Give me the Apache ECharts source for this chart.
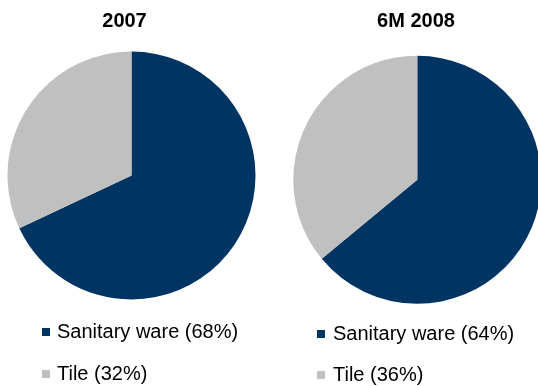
<!DOCTYPE html>
<html>
<head>
<meta charset="utf-8">
<style>
  html, body { margin: 0; padding: 0; background: #fff; }
  #chart { width: 538px; height: 386px; }
</style>
<script src="https://cdn.jsdelivr.net/npm/echarts@6/dist/echarts.min.js"></script>
</head>
<body>
<div id="chart"></div>
<script>
// Revenue split by segment
const categories = ['Sanitary ware', 'Tile'];
const periods = ['2007', '6M 2008'];
const share2007 = [68, 32];
const share6M2008 = [64, 36];

const colors = ['#003462', '#C0C0C0'];
const font = 'Liberation Sans, Arial, sans-serif';

function pieData(values) {
  return categories.map((c, i) => ({ name: c + ' (' + values[i] + '%)', value: values[i] }));
}
const dataA = pieData(share2007);
const dataB = pieData(share6M2008);

const legendText = { fontFamily: font, fontSize: 20, color: '#000', lineHeight: 20 };

const chart = echarts.init(document.getElementById('chart'), null, { renderer: 'canvas' });
chart.setOption({
  animation: false,
  color: colors,
  title: [
    { text: periods[0], left: 119.5, top: 6, textAlign: 'center',
      textStyle: { fontFamily: font, fontSize: 20, fontWeight: 'bold', color: '#000' } },
    { text: periods[1], left: 411, top: 6, textAlign: 'center',
      textStyle: { fontFamily: font, fontSize: 20, fontWeight: 'bold', color: '#000' } }
  ],
  legend: [
    { data: dataA.map(d => d.name), orient: 'vertical', left: 42, top: 322,
      width: 240, height: 64, padding: 0,
      icon: 'rect', itemWidth: 8, itemHeight: 8, itemGap: 22,
      selectedMode: false,
      textStyle: Object.assign({ padding: [0, 0, 0, 2] }, legendText) },
    { data: dataB.map(d => d.name), orient: 'vertical', left: 317, top: 324,
      width: 220, height: 62, padding: 0,
      icon: 'rect', itemWidth: 8, itemHeight: 8, itemGap: 21,
      selectedMode: false,
      textStyle: Object.assign({ padding: [0, 0, 0, 3] }, legendText) }
  ],
  series: [
    { type: 'pie', center: [131.5, 175.5], radius: 124, startAngle: 90, clockwise: true,
      label: { show: false }, labelLine: { show: false }, emphasis: { disabled: true },
      itemStyle: { borderWidth: 0 }, data: dataA },
    { type: 'pie', center: [417.3, 179.8], radius: 124, startAngle: 90, clockwise: true,
      label: { show: false }, labelLine: { show: false }, emphasis: { disabled: true },
      itemStyle: { borderWidth: 0 }, data: dataB }
  ]
});
</script>
</body>
</html>
